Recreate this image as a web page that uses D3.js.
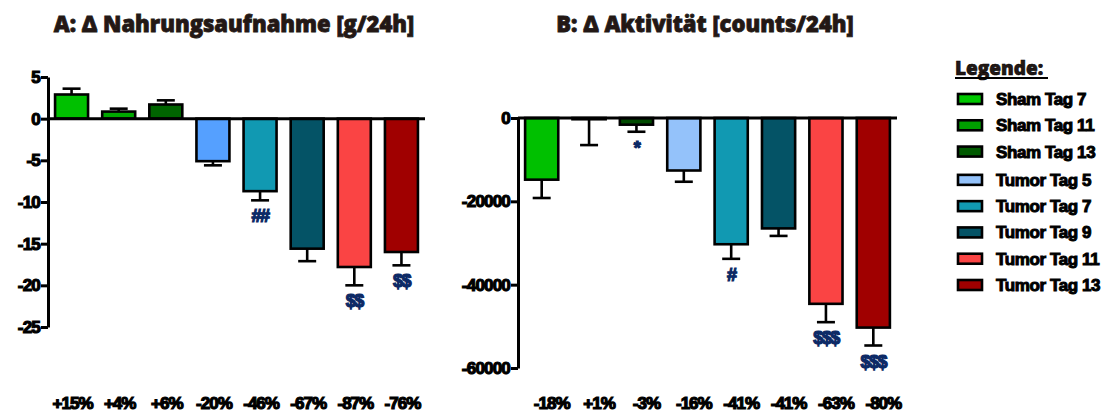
<!DOCTYPE html>
<html>
<head>
<meta charset="utf-8">
<script src="https://cdn.jsdelivr.net/npm/d3@7"></script>
<style>
  body { margin: 0; background: #fff; }
  svg { display: block; }
  .tick text, .lbl { font-family: "Liberation Sans", Arial, sans-serif; font-weight: bold; }
  .title { font-family: "Open Sans", sans-serif; font-weight: 800; fill: #231815; }
</style>
</head>
<body>
<div id="graph-area"></div>
<script>
// groups (same for both panels)
var groups = ["Sham Tag 7", "Sham Tag 11", "Sham Tag 13", "Tumor Tag 5",
              "Tumor Tag 7", "Tumor Tag 9", "Tumor Tag 11", "Tumor Tag 13"];

// A: food intake, g/24h
var valuesA = [2.9, 0.85, 1.7, -5.1, -8.7, -15.6, -17.8, -16.0];
var errA    = [0.7, 0.35, 0.5, 0.5, 1.1, 1.5, 2.2, 1.6];
var pctA    = ["+15%", "+4%", "+6%", "-20%", "-46%", "-67%", "-87%", "-76%"];
var sigA    = ["", "", "", "", "##", "", "$$", "$$"];
var ticksA  = [5, 0, -5, -10, -15, -20, -25];

// B: activity, counts/24h
var valuesB = [-14800, -300, -1600, -12600, -30300, -26500, -44600, -50300];
var errB    = [4400, 6200, 1700, 2700, 3500, 1800, 4400, 4300];
var pctB    = ["-18%", "+1%", "-3%", "-16%", "-41%", "-41%", "-63%", "-80%"];
var sigB    = ["", "", "*", "", "#", "", "$$$", "$$$"];
var ticksB  = [0, -20000, -40000, -60000];

var colorsA = ["#00c000", "#00a800", "#006400", "#55a0ff", "#1199b2", "#045366", "#fa4444", "#a00000"];
var colorsB = ["#00c000", "#00a000", "#004a00", "#94c2fa", "#1199b2", "#045366", "#fa4444", "#a00000"];
var legendColors = ["#00c800", "#00a000", "#005a00", "#94c2fa", "#1199b2", "#045366", "#fa4444", "#a00000"];

var width = 1119, height = 414;

var svg = d3.select("#graph-area")
  .append("svg")
  .attr("width", width)
  .attr("height", height);

function panel(opt) {
  var x = d3.scaleBand().domain(groups).range([opt.x0, opt.x1])
    .paddingInner(0.3).paddingOuter(0.15);
  var y = d3.scaleLinear().domain(opt.domain).range(opt.yRange);

  var g = svg.append("g");

  // title
  svg.append("text")
    .attr("class", "title")
    .attr("x", opt.titleX)
    .attr("y", 32)
    .attr("text-anchor", "middle")
    .attr("font-size", 22)
    .attr("stroke", "#231815").attr("stroke-width", 0.8)
    .text(opt.title);

  // bars
  var data = groups.map((d, i) => ({g: d, v: opt.values[i], e: opt.err[i], c: opt.colors[i], s: opt.sig[i], p: opt.pct[i]}));

  g.selectAll("rect.bar").data(data).enter().append("rect")
    .attr("class", "bar")
    .attr("x", d => x(d.g))
    .attr("width", x.bandwidth())
    .attr("y", d => y(Math.max(0, d.v)))
    .attr("height", d => Math.abs(y(d.v) - y(0)))
    .attr("fill", d => d.c)
    .attr("stroke", "#000")
    .attr("stroke-width", 2.6);

  // error bars (outward only)
  var cx = d => x(d.g) + x.bandwidth() / 2;
  var tip = d => d.v >= 0 ? d.v + d.e : d.v - d.e;
  g.selectAll("line.err").data(data).enter().append("line")
    .attr("x1", cx).attr("x2", cx)
    .attr("y1", d => y(d.v)).attr("y2", d => y(tip(d)))
    .attr("stroke", "#000").attr("stroke-width", 2.6);
  g.selectAll("line.cap").data(data).enter().append("line")
    .attr("x1", d => cx(d) - 9).attr("x2", d => cx(d) + 9)
    .attr("y1", d => y(tip(d))).attr("y2", d => y(tip(d)))
    .attr("stroke", "#000").attr("stroke-width", 2.6);

  // significance marks
  g.selectAll("text.sig").data(data.filter(d => d.s)).enter().append("text")
    .attr("class", "lbl")
    .attr("x", cx)
    .attr("y", d => y(tip(d)) + 22)
    .attr("text-anchor", "middle")
    .attr("font-size", 18)
    .attr("letter-spacing", -1.5)
    .attr("fill", "#0d2a66")
    .attr("stroke", "#0d2a66").attr("stroke-width", 1.2)
    .text(d => d.s);

  // percentage row
  g.selectAll("text.pct").data(data).enter().append("text")
    .attr("class", "lbl")
    .attr("x", d => cx(d) + opt.pctDx)
    .attr("y", 409)
    .attr("text-anchor", "middle")
    .attr("font-size", 17)
    .attr("letter-spacing", -1)
    .attr("stroke", "#000").attr("stroke-width", 1.2)
    .text(d => d.p);

  // y axis
  var yAxis = g.append("g")
    .attr("transform", "translate(" + opt.x0 + ",0)")
    .call(d3.axisLeft(y).tickValues(opt.ticks).tickSize(7).tickSizeOuter(0));
  yAxis.select(".domain").attr("stroke-width", 3);
  yAxis.selectAll(".tick line").attr("stroke-width", 3);
  yAxis.selectAll(".tick text")
    .attr("font-size", 17)
    .attr("letter-spacing", -0.8)
    .attr("stroke", "#000").attr("stroke-width", 1.2)
    .attr("dx", 2)
    .text(d => d3.format("d")(d).replace("\u2212", "-"));

  // zero line
  g.append("line")
    .attr("x1", opt.x0).attr("x2", opt.x1)
    .attr("y1", y(0)).attr("y2", y(0))
    .attr("stroke", "#000").attr("stroke-width", 3);
}

panel({
  title: "A: \u0394 Nahrungsaufnahme [g/24h]", titleX: 234,
  x0: 48, x1: 425, domain: [-25, 5], yRange: [327, 77],
  values: valuesA, err: errA, pct: pctA, sig: sigA, ticks: ticksA,
  colors: colorsA, pctDx: 1
});

panel({
  title: "B: \u0394 Aktivit\u00e4t [counts/24h]", titleX: 705,
  x0: 518, x1: 897, domain: [-60000, 0], yRange: [368, 118],
  values: valuesB, err: errB, pct: pctB, sig: sigB, ticks: ticksB,
  colors: colorsB, pctDx: 10
});

// legend
var lg = svg.append("g").attr("transform", "translate(955,0)");
lg.append("text")
  .attr("class", "title")
  .attr("x", 0).attr("y", 75)
  .attr("font-size", 19)
  .attr("fill", "#000")
  .attr("stroke", "#000").attr("stroke-width", 0.6)
  .text("Legende:");
lg.append("line")
  .attr("x1", 0).attr("x2", 93).attr("y1", 78).attr("y2", 78)
  .attr("stroke", "#000").attr("stroke-width", 2);

var rowY = d3.scaleLinear().domain([0, 7]).range([99, 283]);
var items = lg.selectAll("g.item").data(groups).enter().append("g")
  .attr("transform", (d, i) => "translate(0," + (rowY(i) + (i > 2 ? 2 : 0)) + ")");
items.append("rect")
  .attr("x", 3).attr("y", -5).attr("width", 24).attr("height", 10)
  .attr("fill", (d, i) => legendColors[i])
  .attr("stroke", "#000").attr("stroke-width", 2.6);
items.append("text")
  .attr("class", "lbl")
  .attr("x", 41).attr("y", 6)
  .attr("font-size", 17)
  .attr("letter-spacing", -0.4)
  .attr("stroke", "#000").attr("stroke-width", 1)
  .text(d => d);
</script>
</body>
</html>
